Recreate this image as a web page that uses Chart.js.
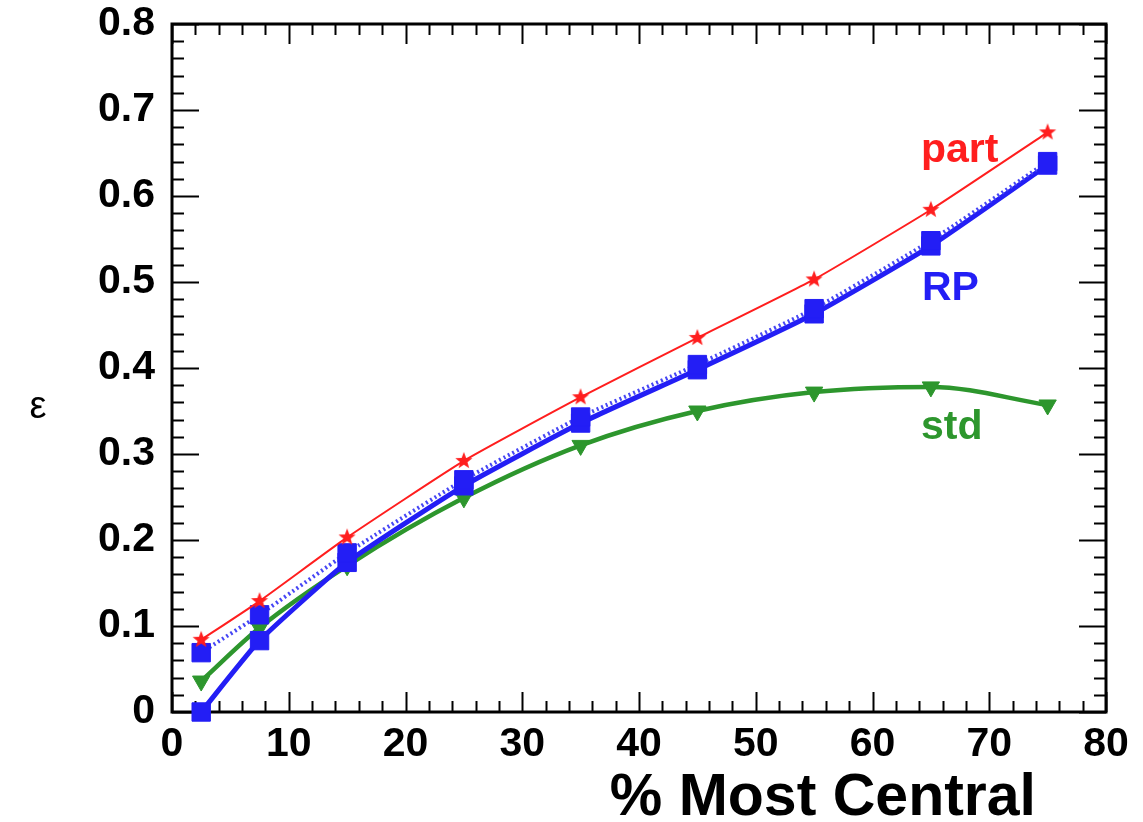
<!DOCTYPE html>
<html>
<head>
<meta charset="utf-8">
<script src="https://cdn.jsdelivr.net/npm/chart.js@4.4.1/dist/chart.umd.min.js"></script>
<style>
  body { margin: 0; background: #fff; }
  #chart { display: block; }
</style>
</head>
<body>
<canvas id="chart" width="1143" height="822"></canvas>
<script>
// centrality bins (% most central)
const centrality = [2.5, 7.5, 15, 25, 35, 45, 55, 65, 75];
const epsPart = [0.084, 0.129, 0.203, 0.292, 0.366, 0.435, 0.503, 0.584, 0.674];
const epsRPDotted = [0.069, 0.113, 0.185, 0.270, 0.343, 0.404, 0.469, 0.548, 0.640];
const epsRP = [0.0, 0.083, 0.174, 0.263, 0.336, 0.398, 0.463, 0.542, 0.636];
const epsStd = [0.036, 0.098, 0.170, 0.249, 0.310, 0.350, 0.372, 0.378, 0.357];
const xTicks = [0, 10, 20, 30, 40, 50, 60, 70, 80];
const yTicks = [0, 0.1, 0.2, 0.3, 0.4, 0.5, 0.6, 0.7, 0.8];

const RED = "rgb(255,30,30)";
const BLUE = "rgb(35,30,245)";
const GREEN = "rgb(45,150,45)";
const FONT = "'Liberation Sans', Arial, Helvetica, sans-serif";

function pts(ys) {
    return centrality.map((c, i) => ({ x: c, y: ys[i] }));
}

// filled five point star used as marker
function makeStar(r, color) {
    const c = document.createElement("canvas");
    c.width = c.height = r * 2 + 2;
    const g = c.getContext("2d");
    g.fillStyle = color;
    g.beginPath();
    for (let i = 0; i < 10; i++) {
        const rad = i % 2 === 0 ? r : r * 0.42;
        const a = -Math.PI / 2 + i * Math.PI / 5;
        const px = c.width / 2 + rad * Math.cos(a);
        const py = c.height / 2 + rad * Math.sin(a);
        if (i === 0) g.moveTo(px, py); else g.lineTo(px, py);
    }
    g.closePath();
    g.fill();
    return c;
}

const framePlugin = {
    id: "frame",
    beforeDatasetsDraw(chart) {
        const ctx = chart.ctx;
        const a = chart.chartArea;
        const x = chart.scales.x, y = chart.scales.y;
        ctx.save();
        ctx.strokeStyle = "#000";
        ctx.lineWidth = 2;
        // x ticks, every 2, major every 10
        for (let i = 0; i <= 40; i++) {
            const px = Math.round(x.getPixelForValue(i * 2)) + 0.5;
            const len = i % 5 === 0 ? 20 : 11;
            ctx.beginPath();
            ctx.moveTo(px, a.bottom); ctx.lineTo(px, a.bottom - len);
            ctx.moveTo(px, a.top); ctx.lineTo(px, a.top + len);
            ctx.stroke();
        }
        // y ticks, every 0.02, major every 0.1
        for (let i = 0; i <= 40; i++) {
            const py = Math.round(y.getPixelForValue(i * 0.02)) + 0.5;
            const len = i % 5 === 0 ? 27 : 12;
            ctx.beginPath();
            ctx.moveTo(a.left, py); ctx.lineTo(a.left + len, py);
            ctx.moveTo(a.right, py); ctx.lineTo(a.right - len, py);
            ctx.stroke();
        }
        ctx.lineWidth = 3;
        ctx.strokeRect(a.left, a.top, a.right - a.left, a.bottom - a.top);
        ctx.restore();
    },
    afterDraw(chart) {
        const ctx = chart.ctx;
        ctx.save();
        // series labels
        ctx.font = "bold 41px " + FONT;
        ctx.textAlign = "left";
        ctx.textBaseline = "alphabetic";
        ctx.fillStyle = RED;
        ctx.fillText("part", 921, 162);
        ctx.fillStyle = BLUE;
        ctx.fillText("RP", 922, 300);
        ctx.fillStyle = GREEN;
        ctx.fillText("std", 921, 439);

        // axis titles
        ctx.fillStyle = "#000";
        ctx.font = "bold 59px " + FONT;
        ctx.textAlign = "right";
        ctx.fillText("% Most Central", 1036, 815);
        ctx.font = "38px " + FONT;
        ctx.textAlign = "center";
        ctx.fillText("ε", 38, 418);
        ctx.restore();
    }
};

var id = document.getElementById("chart").getContext("2d");

var chart = new Chart(id, {
    type: "line",
    data: {
        datasets: [
            {
                label: "std",
                data: pts(epsStd),
                borderColor: GREEN,
                backgroundColor: GREEN,
                borderWidth: 4.5,
                cubicInterpolationMode: "monotone",
                pointStyle: "triangle",
                rotation: 180,
                pointRadius: 10,
                pointBorderWidth: 1,
                clip: false,
                order: 4
            }, {
                label: "RP",
                data: pts(epsRP),
                borderColor: BLUE,
                backgroundColor: BLUE,
                borderWidth: 5,
                tension: 0.15,
                pointStyle: "rect",
                pointRadius: 13,
                pointBorderWidth: 1,
                clip: false,
                order: 3
            }, {
                label: "RP dotted",
                data: pts(epsRPDotted),
                borderColor: "rgb(70,70,245)",
                backgroundColor: BLUE,
                borderWidth: 4,
                borderDash: [2, 3],
                tension: 0.15,
                pointStyle: "rect",
                pointRadius: 13,
                pointBorderWidth: 1,
                pointBorderColor: BLUE,
                clip: false,
                order: 2
            }, {
                label: "part",
                data: pts(epsPart),
                borderColor: RED,
                backgroundColor: RED,
                borderWidth: 2,
                tension: 0.15,
                pointStyle: makeStar(9, RED),
                pointRadius: 9,
                clip: false,
                order: 1
            }
        ]
    },
    options: {
        responsive: false,
        animation: false,
        layout: { padding: { left: 0, right: 37, top: 24, bottom: 0 } },
        plugins: {
            legend: { display: false },
            tooltip: { enabled: false }
        },
        scales: {
            x: {
                type: "linear",
                min: 0,
                max: 80,
                afterBuildTicks: (s) => { s.ticks = xTicks.map(v => ({ value: v })); },
                afterFit: (s) => { s.height = 110; s.paddingLeft = 0; s.paddingRight = 0; },
                grid: { display: false },
                border: { display: false },
                ticks: {
                    color: "#000",
                    padding: 0,
                    maxRotation: 0,
                    font: { family: FONT, size: 41, weight: "bold" }
                }
            },
            y: {
                type: "linear",
                min: 0,
                max: 0.8,
                afterBuildTicks: (s) => { s.ticks = yTicks.map(v => ({ value: v })); },
                afterFit: (s) => { s.width = 172; s.paddingTop = 0; s.paddingBottom = 0; },
                grid: { display: false },
                border: { display: false },
                ticks: {
                    color: "#000",
                    padding: 9,
                    font: { family: FONT, size: 41, weight: "bold" },
                    callback: (v) => (v === 0 ? "0" : v.toFixed(1))
                }
            }
        }
    },
    plugins: [framePlugin]
});
</script>
</body>
</html>
